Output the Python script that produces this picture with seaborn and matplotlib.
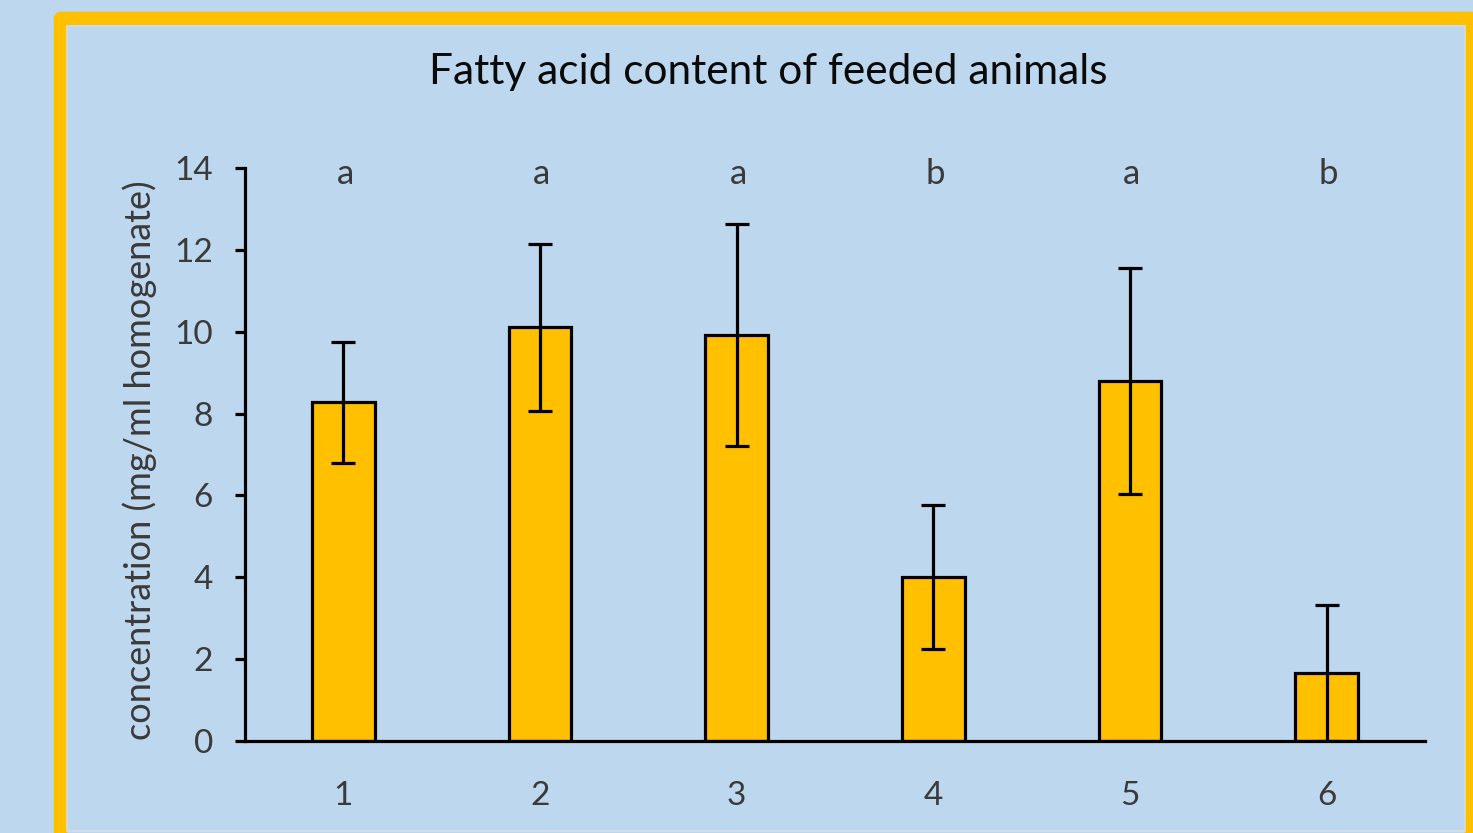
import matplotlib
matplotlib.use("Agg")
import matplotlib.pyplot as plt
from matplotlib.patches import Rectangle
import seaborn as sns
import pandas as pd

# Group labels, mean concentration, error and significance letters
groups = ["1", "2", "3", "4", "5", "6"]
means = [8.28, 10.11, 9.92, 4.00, 8.80, 1.66]
errors = [1.48, 2.04, 2.72, 1.76, 2.76, 1.66]
letters = ["a", "a", "a", "b", "a", "b"]
yticks = [0, 2, 4, 6, 8, 10, 12, 14]

BG = "#BDD7EE"
GOLD = "#FFC000"
TXT = "#3a3a3a"

sns.set_theme(style="white")
plt.rcParams["font.family"] = ["Lato", "DejaVu Sans"]

W, H = 1473, 833
fig = plt.figure(figsize=(W / 100, H / 100), dpi=100, facecolor=BG)

def fx(px):
    return px / W

def fy(py):
    return 1 - py / H

# decorative frames
outer = Rectangle((fx(59.5), fy(845)), fx(1471) - fx(59.5), fy(18) - fy(845),
                  transform=fig.transFigure, fill=False, edgecolor=GOLD,
                  linewidth=13.5 * 0.72, joinstyle="round", zorder=0)
fig.patches.append(outer)
inner = Rectangle((fx(66.5), fy(831)), fx(1465) - fx(66.5), fy(25.5) - fy(831),
                  transform=fig.transFigure, fill=False, edgecolor="#D5DCE4",
                  linewidth=1.2, zorder=0)
fig.patches.append(inner)
side = Rectangle((fx(-40), fy(393)), fx(-2) - fx(-40), fy(-20) - fy(393),
                 transform=fig.transFigure, fill=False, edgecolor=GOLD,
                 linewidth=12 * 0.72, joinstyle="round", zorder=0)
fig.patches.append(side)

ax = fig.add_axes([fx(245), fy(741), fx(1425) - fx(245), fy(168) - fy(741)])
ax.set_facecolor("none")

df = pd.DataFrame({"group": groups, "mean": means})
sns.barplot(data=df, x="group", y="mean", ax=ax, color=GOLD, saturation=1,
            width=0.32, edgecolor="black", linewidth=2.3, zorder=2)
ax.errorbar(range(len(groups)), means, yerr=errors, fmt="none",
            ecolor="black", elinewidth=2.3, capsize=8.5, capthick=2.3, zorder=3)

for i, letter in enumerate(letters):
    ax.text(i + 0.01, 13.85, letter, ha="center", va="center", fontsize=25, color=TXT)

ax.set_xlim(-0.5, len(groups) - 0.5)
ax.set_ylim(0, 14)
ax.set_yticks(yticks)
ax.set_yticklabels([str(t) for t in yticks])
ax.set_xlabel("")
ax.set_ylabel("")

for side_name in ["top", "right"]:
    ax.spines[side_name].set_visible(False)
for side_name in ["left", "bottom"]:
    ax.spines[side_name].set_color("black")
    ax.spines[side_name].set_linewidth(2.3)

ax.tick_params(axis="y", direction="out", length=7, width=2.3, color="black",
               labelsize=24, labelcolor=TXT, pad=16, left=True)
ax.tick_params(axis="x", length=0, labelsize=24, labelcolor=TXT, pad=29)

fig.text(fx(140), fy(460), "concentration (mg/ml homogenate)", rotation=90,
         ha="center", va="center", fontsize=26, color=TXT)
fig.text(fx(768), fy(72), "Fatty acid content of feeded animals",
         ha="center", va="center", fontsize=30.5, color="#0a0a0a")

fig.savefig("out.png", dpi=100, facecolor=BG)
